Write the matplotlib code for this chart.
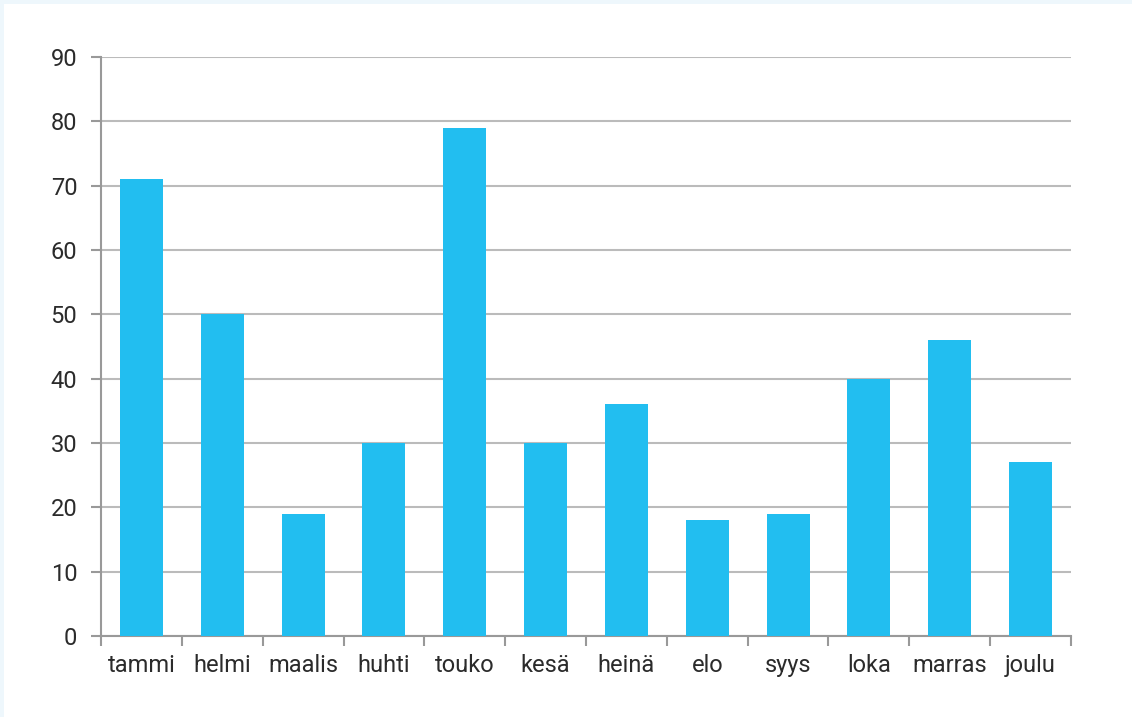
import matplotlib
matplotlib.use("Agg")
import matplotlib.pyplot as plt
from matplotlib.patches import Rectangle
import numpy as np

months = ["tammi", "helmi", "maalis", "huhti", "touko", "kesä",
          "heinä", "elo", "syys", "loka", "marras", "joulu"]
values = [71, 50, 19, 30, 79, 30, 36, 18, 19, 40, 46, 27]
yticks = [0, 10, 20, 30, 40, 50, 60, 70, 80, 90]

plt.rcParams['font.family'] = ['Roboto', 'DejaVu Sans']

fig = plt.figure(figsize=(11.32, 7.17), dpi=100)
fig.patch.set_facecolor("white")
# light frame at top and left
fig.patches.append(Rectangle((0, 1 - 4/717), 1, 4/717, transform=fig.transFigure,
                             facecolor="#EEF7FC", edgecolor="none", zorder=0))
fig.patches.append(Rectangle((0, 0), 4/1132, 1, transform=fig.transFigure,
                             facecolor="#EEF7FC", edgecolor="none", zorder=0))

ax = fig.add_axes([101/1132, (717-636)/717, (1071-101)/1132, (636-57)/717])
x = np.arange(len(months))
ax.bar(x, values, width=0.53, color="#22BEF0", zorder=3)

ax.set_xlim(-0.5, len(months) - 0.5)
ax.set_ylim(0, 90)
ax.set_yticks(yticks)
ax.set_yticklabels([str(v) for v in yticks])
ax.yaxis.grid(True, color="#BBBBBB", linewidth=1.5, zorder=0)
ax.set_axisbelow(True)

# x ticks at category boundaries, labels centered
ax.set_xticks(np.arange(-0.5, len(months), 1.0))
ax.set_xticklabels([])
ax.set_xticks(x, minor=True)
ax.set_xticklabels(months, minor=True)
ax.tick_params(axis="x", which="minor", length=0, pad=13)
ax.tick_params(axis="x", which="major", length=7, width=1.5, color="#999999", direction="out")
ax.tick_params(axis="y", length=7, width=1.5, color="#999999", pad=10)
for lab in ax.get_xticklabels(minor=True) + ax.get_yticklabels():
    lab.set_fontsize(17)
    lab.set_color("#2b2b2b")
    lab.set_fontweight("normal")

for side in ["top", "right"]:
    ax.spines[side].set_visible(False)
for side in ["left", "bottom"]:
    ax.spines[side].set_color("#999999")
    ax.spines[side].set_linewidth(1.5)

fig.savefig("out.png", dpi=100, facecolor="white")
